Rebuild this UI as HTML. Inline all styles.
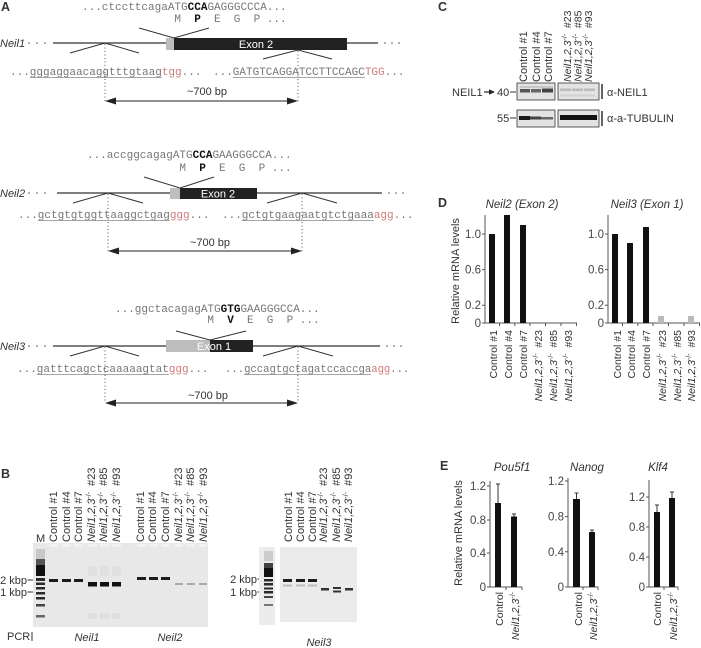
<!DOCTYPE html>
<html><head><meta charset="utf-8"><style>
html,body{margin:0;padding:0;background:#fff;}
svg{display:block;}
text{font-family:"Liberation Sans",sans-serif;fill:#333;}
.m{font-family:"Liberation Mono",monospace;font-size:11px;fill:#777;}
.b{font-weight:bold;fill:#111;}
.r{fill:#d07a7a;}
.i{font-style:italic;}
.t{font-size:11.5px;fill:#444;}
.l{font-size:10.5px;fill:#333;}
</style></head><body>
<svg width="701" height="648" viewBox="0 0 701 648" xmlns="http://www.w3.org/2000/svg">
<!-- ================= PANEL A ================= -->
<text x="1" y="11" font-size="12.5" font-weight="bold" fill="#222">A</text>
<!-- Neil1 -->
<text class="m" x="82" y="10">...ctccttcagaATG<tspan class="b">CCA</tspan>GAGGGCCCA...</text>
<text class="m" y="22"><tspan x="174.4">M</tspan><tspan x="194.2" class="b">P</tspan><tspan x="214">E</tspan><tspan x="233.8">G</tspan><tspan x="253.6">P</tspan><tspan x="266.8">...</tspan></text>
<text x="0" y="47" font-size="11" class="i">Neil1</text>
<g fill="#555"><circle cx="29" cy="43" r="0.8"/><circle cx="37" cy="43" r="0.8"/><circle cx="45" cy="43" r="0.8"/><circle cx="385" cy="43" r="0.8"/><circle cx="392" cy="43" r="0.8"/><circle cx="399" cy="43" r="0.8"/></g>
<line x1="53" y1="43" x2="378" y2="43" stroke="#333" stroke-width="1.3"/>
<rect x="166" y="38" width="8" height="12" fill="#bdbdbd"/>
<rect x="174" y="38" width="173" height="12" fill="#222"/>
<text x="256" y="48" font-size="11" text-anchor="middle" style="fill:#fff">Exon 2</text>
<g fill="none" stroke="#333" stroke-width="1">
<polyline points="139,28 174,38 209,28"/>
<polyline points="70,53 105,43 139,53"/>
<polyline points="263,59 298,50 332,59"/>
</g>
<g stroke="#555" stroke-width="1" stroke-dasharray="1,2.5">
<line x1="105" y1="44" x2="105" y2="101"/><line x1="298" y1="51" x2="298" y2="101"/>
</g>
<text class="m" x="10" y="75">...gggaggaacaggtttgtaag<tspan class="r">tgg</tspan>...</text>
<line x1="29.8" y1="77.5" x2="161.8" y2="77.5" stroke="#888" stroke-width="0.8"/>
<text class="m" x="213" y="75">...GATGTCAGGATCCTTCCAGC<tspan class="r">TGG</tspan>...</text>
<line x1="232.8" y1="77.5" x2="364.8" y2="77.5" stroke="#888" stroke-width="0.8"/>
<text x="207" y="95" font-size="11" text-anchor="middle">~700 bp</text>
<line x1="114" y1="101" x2="289" y2="101" stroke="#222" stroke-width="1.1"/>
<polygon points="105,101 116,97.5 116,104.5" fill="#222"/><polygon points="298,101 287,97.5 287,104.5" fill="#222"/>

<!-- Neil2 -->
<text class="m" x="87" y="158">...accggcagagATG<tspan class="b">CCA</tspan>GAAGGGCCA...</text>
<text class="m" y="171"><tspan x="179.4">M</tspan><tspan x="199.2" class="b">P</tspan><tspan x="219">E</tspan><tspan x="238.8">G</tspan><tspan x="258.6">P</tspan><tspan x="271.8">...</tspan></text>
<text x="0" y="197" font-size="11" class="i">Neil2</text>
<g fill="#555"><circle cx="29" cy="193" r="0.8"/><circle cx="37" cy="193" r="0.8"/><circle cx="45" cy="193" r="0.8"/><circle cx="389" cy="193" r="0.8"/><circle cx="396" cy="193" r="0.8"/><circle cx="403" cy="193" r="0.8"/></g>
<line x1="57" y1="193" x2="382" y2="193" stroke="#333" stroke-width="1.3"/>
<rect x="170" y="188" width="10" height="11" fill="#bdbdbd"/>
<rect x="180" y="188" width="77" height="11" fill="#222"/>
<text x="218" y="197.5" font-size="11" text-anchor="middle" style="fill:#fff">Exon 2</text>
<g fill="none" stroke="#333" stroke-width="1">
<polyline points="144,177 180,188 214,177"/>
<polyline points="73,203 108,193 143,203"/>
<polyline points="267,203 302,193 337,203"/>
</g>
<g stroke="#555" stroke-width="1" stroke-dasharray="1,2.5">
<line x1="108" y1="194" x2="108" y2="251"/><line x1="302" y1="194" x2="302" y2="251"/>
</g>
<text class="m" x="18" y="218">...gctgtgtggttaaggctgag<tspan class="r">ggg</tspan>...</text>
<line x1="37.8" y1="220.5" x2="169.8" y2="220.5" stroke="#888" stroke-width="0.8"/>
<text class="m" x="222" y="218">...gctgtgaagaatgtctgaaa<tspan class="r">agg</tspan>...</text>
<line x1="241.8" y1="220.5" x2="373.8" y2="220.5" stroke="#888" stroke-width="0.8"/>
<text x="210" y="246" font-size="11" text-anchor="middle">~700 bp</text>
<line x1="117" y1="251" x2="293" y2="251" stroke="#222" stroke-width="1.1"/>
<polygon points="108,251 119,247.5 119,254.5" fill="#222"/><polygon points="302,251 291,247.5 291,254.5" fill="#222"/>

<!-- Neil3 -->
<text class="m" x="115" y="312">...ggctacagagATG<tspan class="b">GTG</tspan>GAAGGGCCA...</text>
<text class="m" y="323"><tspan x="207.4">M</tspan><tspan x="227.2" class="b">V</tspan><tspan x="247">E</tspan><tspan x="266.8">G</tspan><tspan x="286.6">P</tspan><tspan x="299.8">...</tspan></text>
<text x="0" y="350" font-size="11" class="i">Neil3</text>
<g fill="#555"><circle cx="29" cy="346" r="0.8"/><circle cx="37" cy="346" r="0.8"/><circle cx="45" cy="346" r="0.8"/><circle cx="387" cy="346" r="0.8"/><circle cx="394" cy="346" r="0.8"/><circle cx="401" cy="346" r="0.8"/></g>
<line x1="53" y1="346" x2="380" y2="346" stroke="#333" stroke-width="1.3"/>
<rect x="166" y="340" width="44" height="12" fill="#bdbdbd"/>
<rect x="210" y="340" width="43" height="12" fill="#222"/>
<text x="214" y="350" font-size="11" text-anchor="middle" style="fill:#fff">Exon 1</text>
<g fill="none" stroke="#333" stroke-width="1">
<polyline points="176,331 210,340 246,331"/>
<polyline points="70,356 105,346 139,356"/>
<polyline points="263,356 298,346 333,356"/>
</g>
<g stroke="#555" stroke-width="1" stroke-dasharray="1,2.5">
<line x1="105" y1="347" x2="105" y2="403"/><line x1="298" y1="347" x2="298" y2="403"/>
</g>
<text class="m" x="17" y="372">...gatttcagctcaaaaagtat<tspan class="r">ggg</tspan>...</text>
<line x1="36.8" y1="374.5" x2="168.8" y2="374.5" stroke="#888" stroke-width="0.8"/>
<text class="m" x="225" y="372" style="font-size:10.6px">...gccagtgctagatccaccga<tspan class="r">agg</tspan>...</text>
<line x1="244" y1="374.5" x2="371" y2="374.5" stroke="#888" stroke-width="0.8"/>
<text x="208" y="399" font-size="11" text-anchor="middle">~700 bp</text>
<line x1="114" y1="403" x2="289" y2="403" stroke="#222" stroke-width="1.1"/>
<polygon points="105,403 116,399.5 116,406.5" fill="#222"/><polygon points="298,403 287,399.5 287,406.5" fill="#222"/>

<!-- ================= PANEL B ================= -->
<text x="1" y="478" font-size="12.5" font-weight="bold" fill="#222">B</text>
<g font-size="11">
<text transform="translate(57,542) rotate(-90)">Control #1</text>
<text transform="translate(70,542) rotate(-90)">Control #4</text>
<text transform="translate(82,542) rotate(-90)">Control #7</text>
<text transform="translate(95,542) rotate(-90)"><tspan class="i">Neil1,2,3</tspan><tspan font-size="7" dy="-4">-/-</tspan><tspan dy="4">&#160;&#160;#23</tspan></text>
<text transform="translate(107,542) rotate(-90)"><tspan class="i">Neil1,2,3</tspan><tspan font-size="7" dy="-4">-/-</tspan><tspan dy="4">&#160;&#160;#85</tspan></text>
<text transform="translate(120,542) rotate(-90)"><tspan class="i">Neil1,2,3</tspan><tspan font-size="7" dy="-4">-/-</tspan><tspan dy="4">&#160;&#160;#93</tspan></text>
<text transform="translate(144,542) rotate(-90)">Control #1</text>
<text transform="translate(156,542) rotate(-90)">Control #4</text>
<text transform="translate(169,542) rotate(-90)">Control #7</text>
<text transform="translate(182,542) rotate(-90)"><tspan class="i">Neil1,2,3</tspan><tspan font-size="7" dy="-4">-/-</tspan><tspan dy="4">&#160;&#160;#23</tspan></text>
<text transform="translate(194,542) rotate(-90)"><tspan class="i">Neil1,2,3</tspan><tspan font-size="7" dy="-4">-/-</tspan><tspan dy="4">&#160;&#160;#85</tspan></text>
<text transform="translate(207,542) rotate(-90)"><tspan class="i">Neil1,2,3</tspan><tspan font-size="7" dy="-4">-/-</tspan><tspan dy="4">&#160;&#160;#93</tspan></text>
<text transform="translate(292,542) rotate(-90)">Control #1</text>
<text transform="translate(304,542) rotate(-90)">Control #4</text>
<text transform="translate(316,542) rotate(-90)">Control #7</text>
<text transform="translate(327,542) rotate(-90)"><tspan class="i">Neil1,2,3</tspan><tspan font-size="7" dy="-4">-/-</tspan><tspan dy="4">&#160;&#160;#23</tspan></text>
<text transform="translate(340,542) rotate(-90)"><tspan class="i">Neil1,2,3</tspan><tspan font-size="7" dy="-4">-/-</tspan><tspan dy="4">&#160;&#160;#85</tspan></text>
<text transform="translate(352,542) rotate(-90)"><tspan class="i">Neil1,2,3</tspan><tspan font-size="7" dy="-4">-/-</tspan><tspan dy="4">&#160;&#160;#93</tspan></text>
<text x="36" y="542">M</text>
<text x="27" y="584" text-anchor="end">2 kbp</text>
<text x="27" y="596" text-anchor="end">1 kbp</text>
<text x="257" y="583" text-anchor="end">2 kbp</text>
<text x="257" y="596" text-anchor="end">1 kbp</text>
<text x="7" y="640">PCR</text>
<text x="87" y="641" text-anchor="middle" class="i">Neil1</text>
<text x="170" y="641" text-anchor="middle" class="i">Neil2</text>
<text x="319" y="646" text-anchor="middle" class="i">Neil3</text>
</g>
<g stroke="#333" stroke-width="1">
<line x1="27.5" y1="580" x2="33" y2="580"/><line x1="27.5" y1="592" x2="33" y2="592"/>
<line x1="257.5" y1="579" x2="263" y2="579"/><line x1="257.5" y1="592" x2="263" y2="592"/>
<line x1="32" y1="632" x2="32" y2="641"/>
</g>
<!-- gel 1 -->
<rect x="33" y="543" width="175" height="84" fill="#e8e8e8"/>
<g fill="#f1f1f1">
<rect x="49" y="544" width="9" height="3"/><rect x="62" y="544" width="9" height="3"/><rect x="74" y="544" width="9" height="3"/>
<rect x="88" y="544" width="9" height="3"/><rect x="100" y="544" width="9" height="3"/><rect x="112" y="544" width="9" height="3"/>
<rect x="137" y="544" width="9" height="3"/><rect x="149" y="544" width="9" height="3"/><rect x="161" y="544" width="9" height="3"/>
<rect x="175" y="544" width="8" height="3"/><rect x="187" y="544" width="8" height="3"/><rect x="199" y="544" width="8" height="3"/>
</g>
<g fill="#e0e0e0">
<rect x="88" y="613" width="9" height="6"/><rect x="100" y="613" width="9" height="6"/><rect x="112" y="613" width="9" height="6"/>
<rect x="88" y="566" width="9" height="10"/><rect x="100" y="566" width="9" height="10"/><rect x="112" y="566" width="9" height="10"/>
</g>
<rect x="36" y="549" width="9" height="10" fill="#c8c8c8"/>
<rect x="36" y="559" width="9" height="6" fill="#555"/>
<rect x="36" y="565" width="9" height="11" fill="#111"/>
<g fill="#2a2a2a">
<rect x="36" y="578" width="9" height="3"/><rect x="36" y="582.5" width="9" height="2.5"/><rect x="36" y="587" width="9" height="2.5"/>
<rect x="36" y="592" width="9" height="2.5"/><rect x="36" y="597" width="9" height="2.5"/><rect x="36" y="604" width="9" height="2.5" fill="#444"/>
<rect x="36" y="615" width="9" height="2.5" fill="#666"/>
</g>
<g fill="#1c1c1c">
<rect x="49" y="579" width="9" height="3"/><rect x="62" y="579" width="9" height="3"/><rect x="74" y="579" width="9" height="3"/>
<rect x="88" y="582" width="9" height="4.5" fill="#111"/><rect x="100" y="582" width="9" height="4.5" fill="#111"/><rect x="112" y="582" width="9" height="4.5" fill="#111"/>
<rect x="137" y="577" width="9" height="3"/><rect x="149" y="577" width="9" height="3"/><rect x="161" y="577" width="9" height="3"/>
</g>
<g fill="#a8a8a8">
<rect x="175" y="583" width="8" height="2"/><rect x="187" y="583" width="8" height="2"/><rect x="199" y="583" width="8" height="2"/>
</g>
<!-- gel 2 -->
<rect x="259" y="547" width="16" height="78" fill="#ececec"/>
<rect x="264" y="551" width="9" height="10" fill="#ccc"/>
<rect x="264" y="563" width="9" height="5" fill="#444"/>
<rect x="264" y="568" width="9" height="9" fill="#111"/>
<g fill="#2a2a2a">
<rect x="264" y="579" width="9" height="2.5"/><rect x="264" y="583" width="9" height="2.5"/><rect x="264" y="587.5" width="9" height="2"/>
<rect x="264" y="591" width="9" height="2.5"/><rect x="264" y="596" width="9" height="2" fill="#444"/><rect x="264" y="604" width="9" height="2" fill="#777"/>
</g>
<rect x="280" y="547" width="77" height="75" fill="#ebebeb"/>
<g fill="#1a1a1a">
<rect x="283" y="579" width="9" height="3"/><rect x="296" y="579" width="9" height="3"/><rect x="308" y="579" width="9" height="3"/>
</g>
<g fill="#bdbdbd">
<rect x="283" y="584.5" width="9" height="2"/><rect x="296" y="584.5" width="9" height="2"/><rect x="308" y="584.5" width="9" height="2"/>
</g>
<g fill="#333">
<rect x="321" y="588" width="8" height="2.5"/><rect x="333" y="587" width="8" height="2"/><rect x="333" y="590.5" width="8" height="2"/><rect x="345" y="588" width="8" height="2.5"/>
</g>

<!-- ================= PANEL C ================= -->
<text x="438" y="11" font-size="12.5" font-weight="bold" fill="#222">C</text>
<g font-size="11">
<text transform="translate(527,82) rotate(-90)">Control #1</text>
<text transform="translate(540,82) rotate(-90)">Control #4</text>
<text transform="translate(552,82) rotate(-90)">Control #7</text>
</g>
<g font-size="10.5">
<text transform="translate(571,82) rotate(-90)"><tspan class="i">Neil1,2,3</tspan><tspan font-size="7" dy="-4">-/-</tspan><tspan dy="4">&#160;&#160;#23</tspan></text>
<text transform="translate(581.5,82) rotate(-90)"><tspan class="i">Neil1,2,3</tspan><tspan font-size="7" dy="-4">-/-</tspan><tspan dy="4">&#160;&#160;#85</tspan></text>
<text transform="translate(592,82) rotate(-90)"><tspan class="i">Neil1,2,3</tspan><tspan font-size="7" dy="-4">-/-</tspan><tspan dy="4">&#160;&#160;#93</tspan></text>
</g>
<g fill="#e3e3e3" stroke="#333" stroke-width="0.8">
<rect x="517" y="83" width="38" height="17"/><rect x="558" y="83" width="41" height="17"/>
<rect x="517" y="110" width="38" height="17"/><rect x="558" y="110" width="41" height="17"/>
</g>
<rect x="520" y="89" width="10" height="3.5" fill="#555"/>
<rect x="531" y="89" width="10" height="3.5" fill="#666"/>
<rect x="542" y="88.5" width="11" height="4" fill="#444"/>
<rect x="520" y="86" width="33" height="2" fill="#c8c8c8"/>
<rect x="560" y="88.5" width="11" height="2.5" fill="#bbb"/>
<rect x="572" y="88.5" width="11" height="2.5" fill="#bbb"/>
<rect x="584" y="88.5" width="11" height="2.5" fill="#bbb"/>
<rect x="560" y="94.5" width="35" height="2" fill="#d2d2d2"/>
<rect x="519" y="116" width="11" height="4" fill="#1a1a1a"/>
<rect x="530" y="116.5" width="11" height="3" fill="#444"/>
<rect x="541" y="117" width="12" height="2.5" fill="#666"/>
<rect x="560" y="115" width="37" height="5" fill="#111"/>
<g font-size="11">
<text x="452" y="96">NEIL1</text>
<text x="497" y="96">40</text>
<text x="497" y="122">55</text>
<text x="607" y="96">α-NEIL1</text>
<text x="607" y="122">α-a-TUBULIN</text>
</g>
<line x1="484" y1="92" x2="491" y2="92" stroke="#222" stroke-width="1.2"/>
<polygon points="489,89.3 495,92 489,94.7" fill="#222"/>
<g stroke="#333" stroke-width="1">
<line x1="510" y1="92" x2="516" y2="92"/><line x1="510" y1="118" x2="516" y2="118"/>
</g>
<g stroke="#111" stroke-width="1.3">
<line x1="602" y1="84" x2="602" y2="99"/><line x1="602" y1="111" x2="602" y2="126"/>
</g>

<!-- ================= PANEL D ================= -->
<text x="438" y="207" font-size="12.5" font-weight="bold" fill="#222">D</text>
<text x="522" y="208" font-size="11.5" text-anchor="middle" class="i">Neil2 (Exon 2)</text>
<text x="647" y="208" font-size="11.5" text-anchor="middle" class="i">Neil3 (Exon 1)</text>
<text transform="translate(459,271) rotate(-90)" font-size="11" text-anchor="middle">Relative mRNA levels</text>
<g stroke="#555" stroke-width="1" fill="none">
<path d="M485,215V323H577M482,234h3M482,269.6h3M482,305.2h3M482,323h3M499.5,323v3M514.8,323v3M530,323v3M545.5,323v3M561,323v3M576.5,323v3"/>
<path d="M608,215V323H700M605,234h3M605,269.6h3M605,305.2h3M605,323h3M622.5,323v3M637.8,323v3M653,323v3M668.5,323v3M684,323v3M699.5,323v3"/>
</g>
<g class="t" text-anchor="end">
<text class="t" x="481" y="238">1.0</text><text class="t" x="481" y="273.6">0.6</text><text class="t" x="481" y="309">0.2</text><text class="t" x="481" y="327">0</text>
<text class="t" x="604" y="238">1.0</text><text class="t" x="604" y="273.6">0.6</text><text class="t" x="604" y="309">0.2</text><text class="t" x="604" y="327">0</text>
</g>
<g fill="#111">
<rect x="489" y="234" width="6" height="89"/><rect x="504" y="215" width="6" height="108"/><rect x="520" y="225" width="6" height="98"/>
<rect x="612" y="234" width="6" height="89"/><rect x="627" y="243" width="6" height="80"/><rect x="643" y="227" width="6" height="96"/>
</g>
<g fill="#bbb"><rect x="658" y="316" width="6" height="7"/><rect x="688" y="316" width="6" height="7"/></g>
<g class="l" text-anchor="end">
<text class="l" transform="translate(497,330) rotate(-90)">Control #1</text>
<text class="l" transform="translate(512,330) rotate(-90)">Control #4</text>
<text class="l" transform="translate(527,330) rotate(-90)">Control #7</text>
<text class="l" transform="translate(542,330) rotate(-90)"><tspan class="i">Neil1,2,3</tspan><tspan font-size="7" dy="-4">-/-</tspan><tspan dy="4">&#160;&#160;#23</tspan></text>
<text class="l" transform="translate(557,330) rotate(-90)"><tspan class="i">Neil1,2,3</tspan><tspan font-size="7" dy="-4">-/-</tspan><tspan dy="4">&#160;&#160;#85</tspan></text>
<text class="l" transform="translate(572,330) rotate(-90)"><tspan class="i">Neil1,2,3</tspan><tspan font-size="7" dy="-4">-/-</tspan><tspan dy="4">&#160;&#160;#93</tspan></text>
<text class="l" transform="translate(621,330) rotate(-90)">Control #1</text>
<text class="l" transform="translate(635,330) rotate(-90)">Control #4</text>
<text class="l" transform="translate(650,330) rotate(-90)">Control #7</text>
<text class="l" transform="translate(666,330) rotate(-90)"><tspan class="i">Neil1,2,3</tspan><tspan font-size="7" dy="-4">-/-</tspan><tspan dy="4">&#160;&#160;#23</tspan></text>
<text class="l" transform="translate(681,330) rotate(-90)"><tspan class="i">Neil1,2,3</tspan><tspan font-size="7" dy="-4">-/-</tspan><tspan dy="4">&#160;&#160;#85</tspan></text>
<text class="l" transform="translate(695,330) rotate(-90)"><tspan class="i">Neil1,2,3</tspan><tspan font-size="7" dy="-4">-/-</tspan><tspan dy="4">&#160;&#160;#93</tspan></text>
</g>

<!-- ================= PANEL E ================= -->
<text x="440" y="470" font-size="12.5" font-weight="bold" fill="#222">E</text>
<text x="512" y="471" font-size="11.5" text-anchor="middle" class="i">Pou5f1</text>
<text x="587" y="471" font-size="11.5" text-anchor="middle" class="i">Nanog</text>
<text x="658" y="471" font-size="11.5" text-anchor="middle" class="i">Klf4</text>
<text transform="translate(462,533) rotate(-90)" font-size="11" text-anchor="middle">Relative mRNA levels</text>
<g stroke="#555" stroke-width="1" fill="none">
<path d="M490,481V587H522M487,486h3M487,520h3M487,553h3M487,587h3M506,587v3M522,587v3"/>
<path d="M568,478V587H598M565,481h3M565,516.6h3M565,551.8h3M565,587h3M583,587v3M598,587v3"/>
<path d="M649,480V587H678M646,497h3M646,527h3M646,557h3M646,587h3M664,587v3M678,587v3"/>
</g>
<g text-anchor="end">
<text class="t" x="486" y="490">1.2</text><text class="t" x="486" y="524">0.8</text><text class="t" x="486" y="557">0.4</text><text class="t" x="486" y="591">0</text>
<text class="t" x="564" y="485">1.2</text><text class="t" x="564" y="520.6">0.8</text><text class="t" x="564" y="555.8">0.4</text><text class="t" x="564" y="591">0</text>
<text class="t" x="645" y="501">1.2</text><text class="t" x="645" y="531">0.8</text><text class="t" x="645" y="561">0.4</text><text class="t" x="645" y="591">0</text>
</g>
<g fill="#111">
<rect x="495" y="503" width="6" height="84"/><rect x="511" y="516.5" width="6" height="70.5"/>
<rect x="573" y="499" width="7" height="88"/><rect x="589" y="532" width="6" height="55"/>
<rect x="654" y="512" width="6" height="75"/><rect x="669" y="498" width="6" height="89"/>
</g>
<g stroke="#333" stroke-width="1" fill="none">
<path d="M498,503V484M496,484h4M514,516.5V514M512,514h4"/>
<path d="M576.5,499V493M574.5,493h4M592,532V530M590,530h4"/>
<path d="M657,512V505M655,505h4M672,498V492M670,492h4"/>
</g>
<g text-anchor="end">
<text class="l" transform="translate(503,592) rotate(-90)">Control</text>
<text class="l" transform="translate(519,592) rotate(-90)"><tspan class="i">Neil1,2,3</tspan><tspan font-size="7" dy="-4">-/-</tspan></text>
<text class="l" transform="translate(582,592) rotate(-90)">Control</text>
<text class="l" transform="translate(597,592) rotate(-90)"><tspan class="i">Neil1,2,3</tspan><tspan font-size="7" dy="-4">-/-</tspan></text>
<text class="l" transform="translate(661,592) rotate(-90)">Control</text>
<text class="l" transform="translate(677,592) rotate(-90)"><tspan class="i">Neil1,2,3</tspan><tspan font-size="7" dy="-4">-/-</tspan></text>
</g>
</svg>
</body></html>
